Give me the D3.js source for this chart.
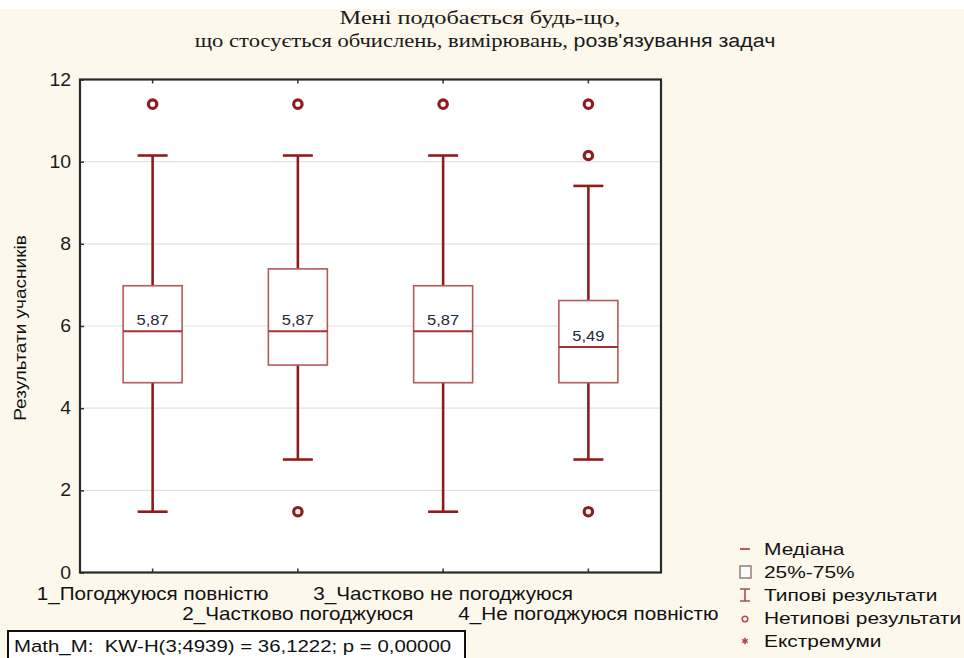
<!DOCTYPE html>
<html>
<head>
<meta charset="utf-8">
<script src="https://cdn.jsdelivr.net/npm/d3@7"></script>
<style>
  html, body { margin: 0; padding: 0; background: #ffffff; }
  svg { display: block; }
  .pre { white-space: pre; }
</style>
</head>
<body>
<svg id="chart" width="964" height="658"></svg>
<script>
// Box-plot summary per answer group (Math_M scores)
const categories = [
  "1_Погоджуюся повністю",
  "2_Частково погоджуюся",
  "3_Частково не погоджуюся",
  "4_Не погоджуюся повністю"
];
const medians = [5.87, 5.87, 5.87, 5.49];
const q1 = [4.62, 5.05, 4.62, 4.62];
const q3 = [6.98, 7.39, 6.98, 6.62];
const whiskerLow = [1.48, 2.75, 1.48, 2.75];
const whiskerHigh = [10.15, 10.15, 10.15, 9.41];
const outliers = [[11.4], [11.4, 1.48], [11.4], [11.4, 10.15, 1.48]];
const yTicks = [0, 2, 4, 6, 8, 10, 12];
const legendItems = ["Медіана", "25%-75%", "Типові результати", "Нетипові результати", "Екстремуми"];
const titleLines = ["Мені подобається будь-що,", "що стосується обчислень, вимірювань, "];
const titleTail = "розв'язування задач";
const statText = "Math_M:  KW-H(3;4939) = 36,1222; p = 0,00000";
const yLabel = "Результати учасників";

const groups = categories.map((c, i) => ({
  name: c, median: medians[i], q1: q1[i], q3: q3[i],
  lo: whiskerLow[i], hi: whiskerHigh[i], out: outliers[i]
}));

const svg = d3.select("#chart");
const W = 964, H = 658;
const plot = { left: 80, right: 661, top: 79.5, bottom: 572.5 };

const cream = "#fcf8ec";
const darkRed = "#8f1c1c";
const boxRed = "#b45a58";
const sans = "'Liberation Sans', Arial, sans-serif";
const serif = "'Liberation Serif', 'Times New Roman', serif";

// text drawn with a slightly wide horizontal stretch
function wideText(parent, x, y, str, opts) {
  const o = Object.assign({ size: 16, sx: 1, anchor: "start", family: sans, rotate: 0, fill: "#111" }, opts || {});
  return parent.append("text")
    .attr("transform", `translate(${x},${y}) rotate(${o.rotate}) scale(${o.sx},1)`)
    .attr("text-anchor", o.anchor)
    .attr("font-family", o.family).attr("font-size", o.size)
    .attr("fill", o.fill)
    .text(str);
}

// page background
svg.append("rect").attr("width", W).attr("height", H).attr("fill", "#ffffff");
svg.append("rect").attr("x", 0).attr("y", 9).attr("width", W).attr("height", H - 9).attr("fill", cream);

const y = d3.scaleLinear().domain([0, 12]).range([plot.bottom, plot.top]);
const x = d3.scaleBand().domain(categories).range([plot.left, plot.right]).padding(0);
const cx = d => x(d) + x.bandwidth() / 2;

// plot area
svg.append("rect")
  .attr("x", plot.left).attr("y", plot.top)
  .attr("width", plot.right - plot.left).attr("height", plot.bottom - plot.top)
  .attr("fill", "#ffffff");

// horizontal grid lines
svg.append("g").selectAll("line")
  .data(yTicks.filter(t => t > 0 && t < 12))
  .join("line")
  .attr("x1", plot.left).attr("x2", plot.right)
  .attr("y1", d => y(d)).attr("y2", d => y(d))
  .attr("stroke", "#e2e2e2").attr("stroke-width", 1.2);

// left axis (ticks point into the plot)
const yAxis = svg.append("g")
  .attr("transform", `translate(${plot.left},0)`)
  .call(d3.axisRight(y).tickValues(yTicks).tickSize(4).tickFormat(""));
yAxis.select(".domain").remove();
yAxis.selectAll("line").attr("stroke", "#333").attr("stroke-width", 1.5);

const yLabels = svg.append("g");
yTicks.forEach(t => wideText(yLabels, 71, y(t) + 6, String(t), { size: 18, sx: 1.08, anchor: "end", fill: "#1c1c1c" }));

// top and bottom category ticks
const topAxis = svg.append("g")
  .attr("transform", `translate(0,${plot.top})`)
  .call(d3.axisBottom(x).tickSize(4).tickFormat(""));
topAxis.select(".domain").remove();
topAxis.selectAll("line").attr("stroke", "#333").attr("stroke-width", 1.5);

const bottomAxis = svg.append("g")
  .attr("transform", `translate(0,${plot.bottom})`)
  .call(d3.axisTop(x).tickSize(4).tickFormat(""));
bottomAxis.select(".domain").remove();
bottomAxis.selectAll("line").attr("stroke", "#333").attr("stroke-width", 1.5);

// plot frame
svg.append("rect")
  .attr("x", plot.left).attr("y", plot.top)
  .attr("width", plot.right - plot.left).attr("height", plot.bottom - plot.top)
  .attr("fill", "none").attr("stroke", "#2a2a2a").attr("stroke-width", 2.2);

// category labels on two staggered rows
const catLabels = svg.append("g");
categories.forEach((c, i) =>
  wideText(catLabels, cx(c), i % 2 === 0 ? 600 : 620, c, { size: 18, sx: 1.15, anchor: "middle" }));

// y-axis title
wideText(svg, 26, (plot.top + plot.bottom) / 2 + 2, yLabel, { size: 17, sx: 1.12, anchor: "middle", rotate: -90 });

// boxes
const boxW = 59, capW = 30;
const g = svg.append("g").selectAll("g").data(groups).join("g");

g.append("line") // upper whisker
  .attr("x1", d => cx(d.name)).attr("x2", d => cx(d.name))
  .attr("y1", d => y(d.q3)).attr("y2", d => y(d.hi))
  .attr("stroke", darkRed).attr("stroke-width", 2.6);
g.append("line") // lower whisker
  .attr("x1", d => cx(d.name)).attr("x2", d => cx(d.name))
  .attr("y1", d => y(d.q1)).attr("y2", d => y(d.lo))
  .attr("stroke", darkRed).attr("stroke-width", 2.6);
g.append("line")
  .attr("x1", d => cx(d.name) - capW / 2).attr("x2", d => cx(d.name) + capW / 2)
  .attr("y1", d => y(d.hi)).attr("y2", d => y(d.hi))
  .attr("stroke", darkRed).attr("stroke-width", 2.6);
g.append("line")
  .attr("x1", d => cx(d.name) - capW / 2).attr("x2", d => cx(d.name) + capW / 2)
  .attr("y1", d => y(d.lo)).attr("y2", d => y(d.lo))
  .attr("stroke", darkRed).attr("stroke-width", 2.6);

g.append("rect")
  .attr("x", d => cx(d.name) - boxW / 2).attr("width", boxW)
  .attr("y", d => y(d.q3)).attr("height", d => y(d.q1) - y(d.q3))
  .attr("fill", "#ffffff").attr("stroke", boxRed).attr("stroke-width", 1.6);

g.append("line") // median
  .attr("x1", d => cx(d.name) - boxW / 2).attr("x2", d => cx(d.name) + boxW / 2)
  .attr("y1", d => y(d.median)).attr("y2", d => y(d.median))
  .attr("stroke", "#a23434").attr("stroke-width", 2);

g.each(function (d) {
  wideText(d3.select(this), cx(d.name), y(d.median) - 6,
    d3.format(".2f")(d.median).replace(".", ","),
    { size: 15, sx: 1.1, anchor: "middle", fill: "#24283a" });
});

g.selectAll("circle")
  .data(d => d.out.map(v => ({ name: d.name, v })))
  .join("circle")
  .attr("cx", d => cx(d.name)).attr("cy", d => y(d.v))
  .attr("r", 4.2)
  .attr("fill", "none").attr("stroke", darkRed).attr("stroke-width", 3.2);

// title
wideText(svg, 480, 24, titleLines[0], { size: 19, sx: 1.28, anchor: "middle", family: serif, fill: "#1a1a1a" });
const t2 = svg.append("text")
  .attr("class", "pre")
  .attr("transform", "translate(485,47) scale(1.19,1)")
  .attr("text-anchor", "middle")
  .attr("font-family", serif).attr("font-size", 19)
  .attr("fill", "#1a1a1a");
t2.append("tspan").text(titleLines[1]);
t2.append("tspan").attr("font-family", sans).attr("font-size", 18).text(titleTail);

// legend
const legX = 745, legY0 = 549, legStep = 23;
const leg = svg.append("g");
legendItems.forEach((t, i) => {
  wideText(leg, legX + 19, legY0 + i * legStep + 6, t, { size: 17, sx: 1.23 });
});
leg.append("line")
  .attr("x1", legX - 5).attr("x2", legX + 5)
  .attr("y1", legY0).attr("y2", legY0)
  .attr("stroke", "#b04a4a").attr("stroke-width", 1.8);
leg.append("rect")
  .attr("x", legX - 5).attr("y", legY0 + legStep - 6)
  .attr("width", 11).attr("height", 12)
  .attr("fill", "#fbfbfb").attr("stroke", "#8a6a6a").attr("stroke-width", 1.3);
{
  const ly = legY0 + 2 * legStep;
  leg.append("path")
    .attr("d", `M${legX - 5},${ly - 6}H${legX + 5}M${legX},${ly - 6}V${ly + 6}M${legX - 5},${ly + 6}H${legX + 5}`)
    .attr("fill", "none").attr("stroke", "#b04a4a").attr("stroke-width", 1.6);
}
leg.append("circle")
  .attr("cx", legX).attr("cy", legY0 + 3 * legStep + 1)
  .attr("r", 2.8)
  .attr("fill", "none").attr("stroke", "#b04a4a").attr("stroke-width", 1.5);
leg.append("path")
  .attr("transform", `translate(${legX},${legY0 + 4 * legStep})`)
  .attr("d", d3.symbol(d3.symbolAsterisk, 30)())
  .attr("fill", "none").attr("stroke", "#b04a4a").attr("stroke-width", 1.6);

// test statistic box
svg.append("rect")
  .attr("x", 8).attr("y", 631).attr("width", 457).attr("height", 40)
  .attr("fill", "#ffffff").attr("stroke", "#111").attr("stroke-width", 2);
wideText(svg, 14, 652, statText, { size: 17, sx: 1.2 }).attr("class", "pre");
</script>
</body>
</html>
